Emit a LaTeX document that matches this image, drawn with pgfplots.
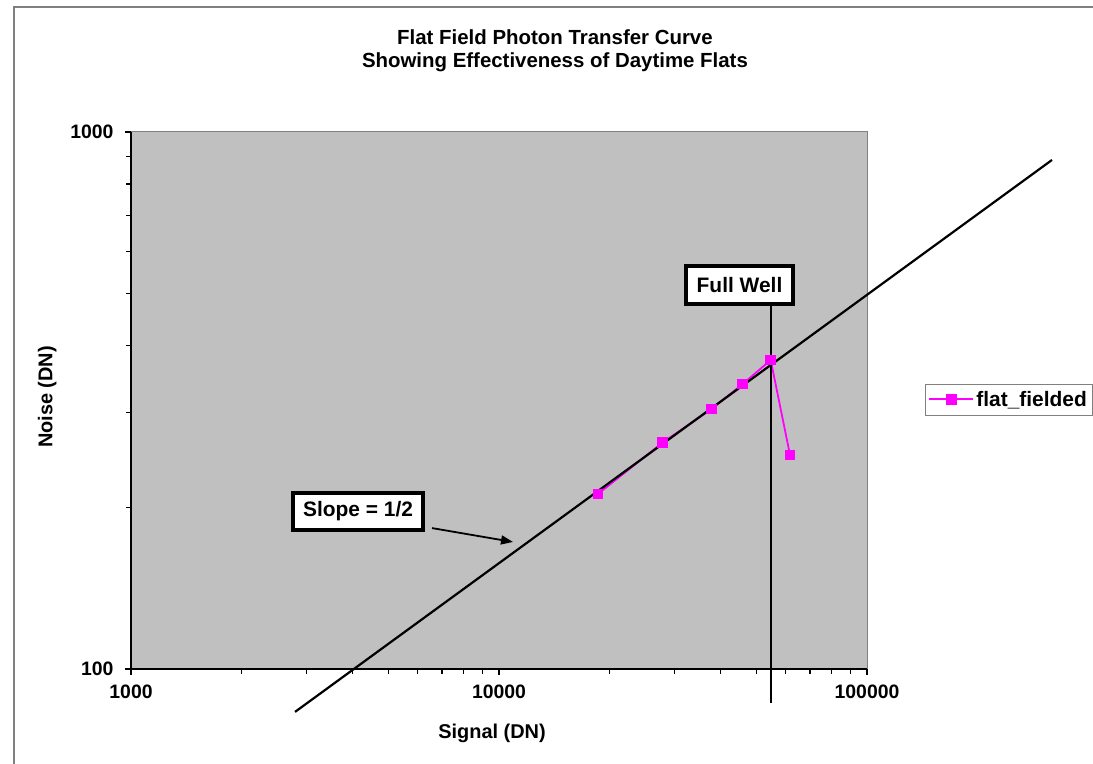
\documentclass[border=0pt]{standalone}
\usepackage{pgfplots}
\pgfplotsset{compat=1.18}
\usepackage{pgfplotstable}
\usepackage{fontspec}
\setmainfont{Liberation Sans}
\usetikzlibrary{arrows.meta}
\definecolor{plotgray}{RGB}{192,192,192}
\definecolor{framegray}{RGB}{128,128,128}
\definecolor{mag}{RGB}{255,0,255}

\pgfplotstableread{
x y
18578 211.8
27786 263.8
37844 304.9
45950 339.4
54740 376.2
61770 250.3
}\flatdata

\pgfplotstableread{
x y
2791 83.2
318200 887.0
}\slopeline

\pgfplotstableread{
x y
54840 86.4
54840 518.9
}\fullwell

\begin{document}
\begin{tikzpicture}
\path[use as bounding box] (-131bp,-95bp) rectangle (962bp,669bp);
\begin{axis}[
  scale only axis, width=736bp, height=537bp,
  xmode=log, ymode=log,
  xmin=1000, xmax=100000, ymin=100, ymax=1000,
  axis background/.style={fill=plotgray},
  axis line style={draw=framegray, line width=1bp},
  clip=false,
  xtick={1000,10000,100000}, xticklabels={1000,10000,100000},
  ytick={100,1000}, yticklabels={100,1000},
  minor xtick={2000,3000,4000,5000,6000,7000,8000,9000,20000,30000,40000,50000,60000,70000,80000,90000},
  minor ytick={200,300,400,500,600,700,800,900},
  tick align=outside, xtick pos=bottom, ytick pos=left,
  major tick length=6bp, minor tick length=5bp,
  every tick/.style={black, line width=1.2bp},
  ticklabel style={font=\fontsize{19.5}{23}\selectfont\bfseries},
  yticklabel style={xshift=-8bp},
  xticklabel style={yshift=-6bp},
  xlabel={Signal (DN)}, ylabel={Noise (DN)},
  label style={font=\fontsize{20}{24}\selectfont\bfseries},
  xlabel style={at={(axis description cs:0.4905,-0.1192)}, anchor=center},
  ylabel style={at={(axis description cs:-0.114,0.5065)}, anchor=center},
  title={Flat Field Photon Transfer Curve\\Showing Effectiveness of Daytime Flats},
  title style={at={(axis description cs:0.576,1.1406)}, anchor=center, align=center,
    font=\fontsize{20.5}{23}\selectfont\bfseries},
  legend style={at={(axis description cs:1.3057,0.502)}, anchor=east,
    draw=framegray, fill=white,
    font=\fontsize{21}{24}\selectfont\bfseries, inner xsep=3bp, inner ysep=5bp},
  legend cell align=left,
  legend image post style={line width=2bp},
  legend image code/.code={\draw[mag, line width=2bp, mark repeat=2, mark phase=2] plot coordinates {(0bp,0bp) (22bp,0bp) (44bp,0bp)};},
]
\addplot[mag, line width=1.8bp, mark=square*, mark size=4.5bp, mark options={solid, fill=mag}] table {\flatdata};
\addlegendentry{flat\_fielded}
\addplot[black, line width=2.2bp, forget plot] table {\slopeline};
\addplot[black, line width=2.2bp, forget plot] table {\fullwell};
\draw[black, line width=1.6bp] (rel axis cs:0,1) -- (rel axis cs:0,0) -- (rel axis cs:1,0);
\node[draw=black, line width=4bp, fill=white, minimum width=130bp, minimum height=37bp,
  font=\fontsize{21}{24}\selectfont\bfseries] at (axis cs:4139,196.5) {Slope = 1/2};
\node[draw=black, line width=4bp, fill=white, minimum width=107bp, minimum height=38bp,
  font=\fontsize{21}{24}\selectfont\bfseries] at (axis cs:45030,518.9) {Full Well};
\draw[-{Triangle[length=12bp,width=9bp]}, line width=1.8bp] (axis cs:6577,183.0) -- (axis cs:10916,172.4);
\end{axis}
\draw[framegray, line width=1.5bp] (-117bp,-95bp) -- (-117bp,662bp) -- (962bp,662bp);
\end{tikzpicture}
\end{document}
